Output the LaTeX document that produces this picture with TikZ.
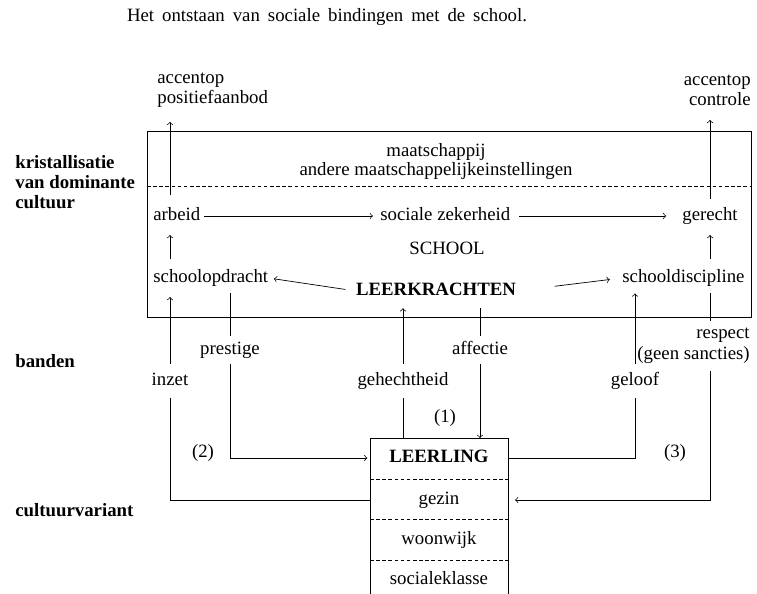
\documentclass[tikz,border=0pt]{standalone}
\usepackage{fontspec}
\setmainfont{Liberation Serif}
\newfontfamily\titelfont[WordSpace=1.7]{Liberation Serif}
\usetikzlibrary{arrows,positioning}

\begin{document}
\begin{tikzpicture}[x=0.02cm,y=-0.02cm,
    every node/.style={font=\fontsize{10.7}{11.5}\selectfont, inner sep=0pt, text height=7pt, text depth=2.2pt},
    kop/.style={font=\fontsize{10.7}{11.5}\selectfont\bfseries},
    regels/.style={text height={}, text depth={}},
    band/.style={minimum height=19pt},
    bandhoog/.style={minimum height=15pt},
    streep/.style={dash pattern=on 2pt off 1.5pt}]
    \useasboundingbox (0,0) rectangle (757,594);
    \node[font=\fontsize{10.7}{11.5}\titelfont] (titel) at (327,17) {Het ontstaan van sociale bindingen met de school.};
    \node[kop,regels,anchor=west,align=left] (kristal) at (15,182) {kristallisatie\\van dominante\\cultuur};
    \node[kop,anchor=west] (banden) at (15,363) {banden};
    \node[kop,anchor=west] (variant) at (15,512) {cultuurvariant};
    \coordinate (boxnw) at (147,131);
    \coordinate (boxse) at (751,317);
    \draw (boxnw) rectangle (boxse);
    \draw[streep] (147,186) -- (751,186);
    \node (maatsch) at (436,152) {maatschappij};
    \node (instel) at (436,171) {andere maatschappelijkeinstellingen};
    \node[anchor=west] (arbeid) at (153,216) {arbeid};
    \node[anchor=west] (zekerheid) at (380,216) {sociale zekerheid};
    \node[anchor=west] (gerecht) at (682,216) {gerecht};
    \node (school) at (447,250) {SCHOOL};
    \node[anchor=west] (opdracht) at (153,278) {schoolopdracht};
    \node[kop] (leerkr) at (436,291) {LEERKRACHTEN};
    \node[anchor=west] (discipline) at (622,278) {schooldiscipline};
    \node[regels,anchor=west,align=left] (posaanbod) at (157,90) {accentop\\positiefaanbod};
    \node[regels,anchor=east,align=right] (controle) at (751,90) {accentop\\controle};
    \coordinate (links) at (170,0);
    \draw[->,shorten <=7pt,shorten >=8pt] (arbeid.north -| links) -- (posaanbod.south -| links);
    \draw[->,shorten <=6pt,shorten >=6pt] (opdracht.north -| links) -- (arbeid.south -| links);
    \draw[->,shorten <=2pt,shorten >=4pt] (arbeid) -- (zekerheid);
    \draw[->,shorten <=5pt,shorten >=9pt] (zekerheid) -- (gerecht);
    \draw[->,shorten <=6pt,shorten >=6pt] (discipline.north -| gerecht) -- (gerecht.south);
    \draw[->,shorten <=5pt,shorten >=8pt] (gerecht.north) -- (controle.south -| gerecht);
    \draw[->,shorten <=6pt,shorten >=3pt] (leerkr.west) -- (opdracht.east);
    \draw[->,shorten <=22pt,shorten >=7pt] (leerkr.east) -- (discipline.west);
    \coordinate (lbnw) at (370,438);
    \coordinate (lbne) at (508,438);
    \draw (370,594) -- (lbnw) -- (lbne) -- (508,594);
    \node[kop] (leerling) at (439,458) {LEERLING};
    \draw[streep] (370,479) -- (508,479);
    \node (gezin) at (439,500) {gezin};
    \draw[streep] (370,519) -- (508,519);
    \node (woonwijk) at (439,540) {woonwijk};
    \draw[streep] (370,560) -- (508,560);
    \node (klasse) at (439,580) {socialeklasse};
    \node[band] (inzet) at (170,381) {inzet};
    \node[bandhoog] (prestige) at (230,350) {prestige};
    \node[band] (gehecht) at (403,381) {gehechtheid};
    \node[bandhoog] (affectie) at (480,350) {affectie};
    \node[band] (geloof) at (635,381) {geloof};
    \node[regels,anchor=north east,align=right,inner ysep=4pt] (respect) at (750,321) {respect\\(geen sancties)};
    \draw (gezin.west -| lbnw) -| (inzet.south);
    \draw[->,shorten >=6pt] (inzet.north) -- (opdracht.south -| inzet);
    \draw[shorten <=4pt] (opdracht.south -| prestige) -- (prestige.north);
    \draw[->,shorten >=1.5pt] (prestige.south) |- (leerling.west -| lbnw);
    \draw[->,shorten >=5pt] (gehecht.north) -- (leerkr.south -| gehecht);
    \draw (lbnw -| gehecht) -- (gehecht.south);
    \draw[shorten <=5pt] (leerkr.south -| affectie) -- (affectie.north);
    \draw[->] (affectie.south) -- (lbnw -| affectie);
    \draw (leerling.east -| lbne) -| (geloof.south);
    \draw[->,shorten >=4pt] (geloof.north) -- (discipline.south -| geloof);
    \draw[shorten <=4pt] (discipline.south -| gerecht) -- (respect.north -| gerecht);
    \draw[->,shorten >=4pt] (respect.south -| gerecht) |- (gezin.east -| lbne);
    \node (een) at (445,418) {(1)};
    \node (twee) at (203,453) {(2)};
    \node (drie) at (675,453) {(3)};
\end{tikzpicture}
\end{document}
